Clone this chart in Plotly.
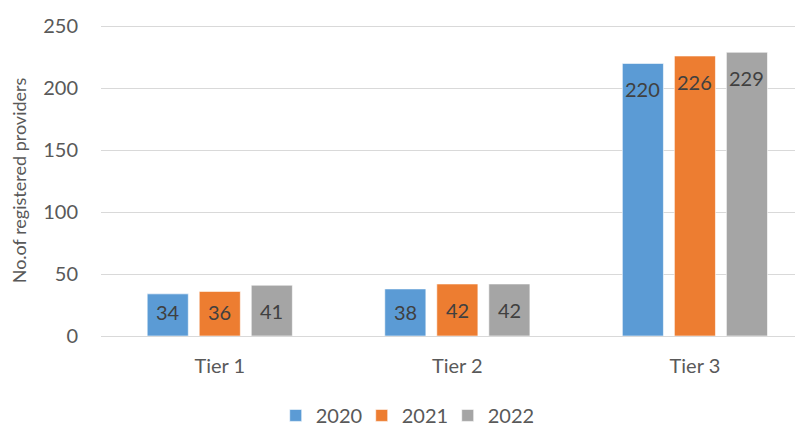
import plotly.graph_objects as go

categories = ["Tier 1", "Tier 2", "Tier 3"]
years = ["2020", "2021", "2022"]
values_2020 = [34, 38, 220]
values_2021 = [36, 42, 226]
values_2022 = [41, 42, 229]
colors = ["#5B9BD5", "#ED7D31", "#A5A5A5"]
y_ticks = [0, 50, 100, 150, 200, 250]

series = [values_2020, values_2021, values_2022]
FONT = "Lato, 'Open Sans', sans-serif"

bargap = 0.343
bargroupgap = 0.21
slot = (1 - bargap) / 3
xpos = list(range(len(categories)))

fig = go.Figure()
annotations = []
for i, (yr, vals, col) in enumerate(zip(years, series, colors)):
    fig.add_trace(go.Bar(
        x=xpos, y=vals, name=yr,
        marker=dict(color=col, line=dict(color="rgba(255,255,255,0.6)", width=1)),
        hoverinfo="skip",
    ))
    for xi, v in zip(xpos, vals):
        annotations.append(dict(
            x=xi + (i - 1) * slot, y=max(v - 21, 19), xref="x", yref="y",
            text=str(v), showarrow=False, yanchor="middle", xanchor="center",
            font=dict(family=FONT, size=20, color="#404040"),
        ))

# page has an 8px body margin: figure is drawn from (8, 8)
fig.update_layout(
    width=795, height=420,
    margin=dict(l=93, r=0, t=17, b=92),
    paper_bgcolor="white", plot_bgcolor="white",
    barmode="group", bargap=bargap, bargroupgap=bargroupgap,
    font=dict(family=FONT, color="#595959"),
    annotations=annotations,
    showlegend=True,
    legend=dict(
        orientation="h", xref="container", yref="container",
        x=0.499, y=0.03, xanchor="center", yanchor="middle",
        entrywidth=41, entrywidthmode="pixels",
        font=dict(family=FONT, size=20, color="#595959"),
    ),
    xaxis=dict(
        range=[-0.5, 2.455], tickvals=xpos, ticktext=categories,
        showgrid=False, zeroline=False, showline=False,
        tickfont=dict(family=FONT, size=20, color="#595959"),
        ticklabelstandoff=16,
    ),
    yaxis=dict(
        range=[0, 251], tickvals=y_ticks,
        showgrid=True, gridcolor="#D9D9D9", gridwidth=1.3,
        zeroline=True, zerolinecolor="#D9D9D9", zerolinewidth=1.3,
        showline=False,
        tickfont=dict(family=FONT, size=20, color="#595959"),
        ticklabelstandoff=22,
        title=dict(text="No.of registered providers",
                   font=dict(family=FONT, size=18, color="#595959"),
                   standoff=12),
    ),
)

fig.write_html("out.html")
